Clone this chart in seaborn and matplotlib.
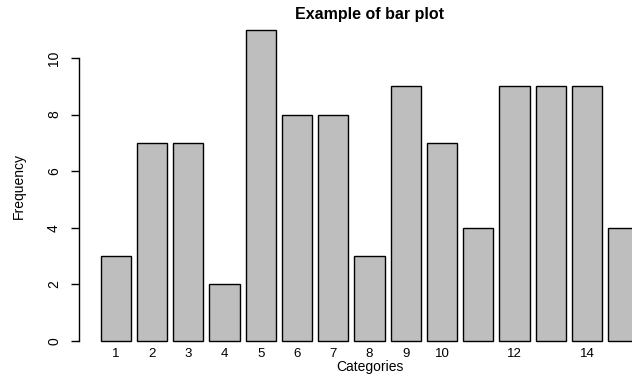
import matplotlib
matplotlib.use("Agg")
import matplotlib.pyplot as plt
import seaborn as sns

# Frequencies for each category
categories = [str(i) for i in range(1, 16)]
values = [3, 7, 7, 2, 11, 8, 8, 3, 9, 7, 4, 9, 9, 9, 4]
# Only some category labels are printed (the others would collide)
x_tick_labels = ["1", "2", "3", "4", "5", "6", "7", "8", "9", "10", "", "12", "", "14", ""]
y_ticks = [0, 2, 4, 6, 8, 10]

sns.set_style("white")
plt.rcParams["font.family"] = ["Liberation Sans", "DejaVu Sans"]
for key in ("text.color", "axes.labelcolor", "xtick.color", "ytick.color", "axes.edgecolor"):
    plt.rcParams[key] = "black"
narrow = ["Liberation Sans Narrow", "Liberation Sans", "DejaVu Sans"]

W, H = 632, 376
fig = plt.figure(figsize=(W / 100, H / 100), dpi=100)
# plotting region (extends a little past the right edge of the figure)
ax = fig.add_axes([79 / W, (H - 353.5) / H, 581 / W, (353.5 - 17.2) / H])

sns.barplot(x=categories, y=values, order=categories, color="#BEBEBE",
            saturation=1, edgecolor="black", linewidth=1.0, width=0.833, ax=ax)

ax.set_xlim(-1.01, 15.01)
ax.set_ylim(-0.44, 11.44)

for side in ("top", "right", "bottom"):
    ax.spines[side].set_visible(False)
ax.spines["left"].set_bounds(0, 10)
ax.spines["left"].set_linewidth(1.0)
ax.spines["left"].set_color("black")

ax.set_xticks(range(len(categories)))
ax.set_xticklabels(x_tick_labels, fontsize=9.5, color="black")
ax.tick_params(axis="x", length=0, pad=0.7)
for lab in ax.get_xticklabels():
    lab.set_va("center")

ax.set_yticks(y_ticks)
ax.set_yticklabels([str(t) for t in y_ticks], fontsize=10, family=narrow, color="black")
ax.tick_params(axis="y", length=5.76, width=1.0, color="black", pad=12.2, left=True)
for lab in ax.get_yticklabels():
    lab.set_rotation(90)
    lab.set_ha("center")
    lab.set_va("center")

ax.set_xlabel("")
ax.set_ylabel("")

fig.text(370 / W, 1 - 367 / H, "Categories", ha="center", va="center",
         fontsize=10, color="black")
fig.text(19 / W, 1 - 186 / H, "Frequency", ha="center", va="center",
         rotation=90, fontsize=10, family=narrow, color="black")
fig.text(369.5 / W, 1 - 15 / H, "Example of bar plot", ha="center", va="center",
         fontsize=11.5, fontweight="bold", color="black")

fig.savefig("out.png", dpi=100)
